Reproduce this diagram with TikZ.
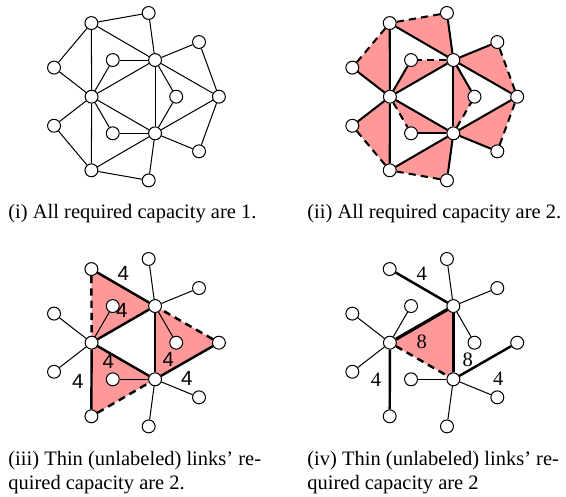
\documentclass[tikz,border=0pt]{standalone}
\usepackage{fontspec}
\setmainfont{Liberation Serif}
\newfontfamily\lblsans{Liberation Sans}
\usetikzlibrary{calc, backgrounds}

% the fifteen nodes of one panel: outer ring o0..o320, inner ring i0..i300
\newcommand{\ringnodes}[2]{%
  \foreach \a in {0,40,...,320}
    \node[vtx] (#1o\a) at ($(#2)+(\a:85)$) {};
  \foreach \a in {0,60,...,300}
    \node[vtx] (#1i\a) at ($(#2)+(\a:42.3)$) {};
}

\begin{document}
\begin{tikzpicture}[
  x=0.488pt, y=0.488pt,
  vtx/.style={circle, draw=black, fill=white, line width=0.5pt,
              minimum size=6.3pt, inner sep=0pt},
  lnk/.style={line width=0.5pt},
  hvy/.style={line width=1pt},
  cap4/.style={line width=1.2pt},
  cap8/.style={line width=1.6pt},
  dsh/.style={dash pattern=on 3.5pt off 2.5pt},
  tri/.style={fill=red!40},
  lbl/.style={inner sep=0pt},
  capt/.style={anchor=base west, align=left, inner sep=0pt}
]
\useasboundingbox (0,0) rectangle (566,497);

\coordinate (ca) at (133.9,400.3);
\coordinate (cb) at (432.2,400.3);
\coordinate (cc) at (133.9,154.3);
\coordinate (cd) at (432.2,154.3);

\ringnodes{a}{ca}
\ringnodes{b}{cb}
\ringnodes{c}{cc}
\ringnodes{d}{cd}

% (i)
\foreach \u/\v in {i60/o0, i60/o40, i60/o80, i60/o120, i60/i0, i60/i120,
    i60/i180, i60/i300, i180/o120, i180/o160, i180/o200, i180/o240,
    i180/i120, i180/i240, i180/i300, i300/o240, i300/o280, i300/o320,
    i300/o0, i300/i0, i300/i240, o0/o40, o80/o120, o120/o160, o200/o240,
    o240/o280, o320/o0}{
  \draw[lnk] (a\u) -- (a\v);}

% (ii)
\begin{scope}[on background layer]
\foreach \u/\v/\w in {i60/o0/o40, i60/o80/o120, i180/o120/o160,
    i180/o200/o240, i300/o240/o280, i300/o320/o0, i60/i120/i180,
    i60/i0/i300, i180/i240/i300}{
  \fill[tri] (b\u.center) -- (b\v.center) -- (b\w.center) -- cycle;}
\end{scope}
\foreach \u/\v in {i60/o0, i60/o40, i60/o80, i60/o120, i60/i0, i60/i180,
    i60/i300, i180/o120, i180/o160, i180/o200, i180/o240, i180/i120,
    i180/i300, i300/o240, i300/o280, i300/o320, i300/o0, i300/i240}{
  \draw[hvy] (b\u) -- (b\v);}
\foreach \u/\v in {i60/i120, i300/i0, i180/i240, o0/o40, o80/o120,
    o120/o160, o200/o240, o240/o280, o320/o0}{
  \draw[hvy, dsh] (b\u) -- (b\v);}

% (iii)
\begin{scope}[on background layer]
\foreach \u/\v/\w in {o120/i60/i180, o0/i300/i60, o240/i180/i300}{
  \fill[tri] (c\u.center) -- (c\v.center) -- (c\w.center) -- cycle;}
\end{scope}
\foreach \u/\v in {i60/o40, i60/o80, i60/i0, i180/o160, i180/o200,
    i180/i120, i300/o280, i300/o320, i300/i240}{
  \draw[lnk] (c\u) -- (c\v);}
\foreach \u/\v in {i60/o120, i60/i180, i300/o0, i300/i60, i180/o240,
    i180/i300}{
  \draw[cap4] (c\u) -- (c\v);}
\foreach \u/\v in {o120/i180, o0/i60, o240/i300}{
  \draw[cap4, dsh] (c\u) -- (c\v);}
\foreach \n/\p in {ae/{-10.6,69.4}, eg/{-12.2,32.7}, il/{52.8,-35.6},
    el/{34.4,-16.6}, gn/{-56.2,-39}, gl/{-25.6,-19}}{
  \node[lbl, font=\lblsans] (c4\n) at ($(cc)+(\p)$) {4};}

% (iv)
\begin{scope}[on background layer]
\fill[tri] (di60.center) -- (di180.center) -- (di300.center) -- cycle;
\end{scope}
\foreach \u/\v in {i60/o40, i60/o80, i60/i0, i180/o160, i180/o200,
    i180/i120, i300/o280, i300/o320, i300/i240}{
  \draw[lnk] (d\u) -- (d\v);}
\foreach \u/\v in {i60/o120, i300/o0, i180/o240}{
  \draw[cap4] (d\u) -- (d\v);}
\foreach \u/\v in {i60/i180, i60/i300}{
  \draw[cap8] (d\u) -- (d\v);}
\draw[cap4, dsh] (di180) -- (di300);
\node[lbl] (d4ae) at ($(cd)+(-10.5,69.4)$) {4};
\node[lbl] (d8eg) at ($(cd)+(-10.5,1)$) {8};
\node[lbl] (d8el) at ($(cd)+(35.5,-16.6)$) {8};
\node[lbl] (d4gn) at ($(cd)+(-56.2,-37.3)$) {4};
\node[lbl] (d4il) at ($(cd)+(66.1,-35.6)$) {4};

% captions
\node[capt] (capa) at (8,278) {(i) All required capacity are 1.};
\node[capt] (capb) at (307,278) {(ii) All required capacity are 2.};
\node[capt] (capc) at (8,7)
  {(iii) Thin (unlabeled) links' re-\\quired capacity are 2.};
\node[capt] (capd) at (307,7)
  {(iv) Thin (unlabeled) links' re-\\quired capacity are 2};
\end{tikzpicture}
\end{document}
